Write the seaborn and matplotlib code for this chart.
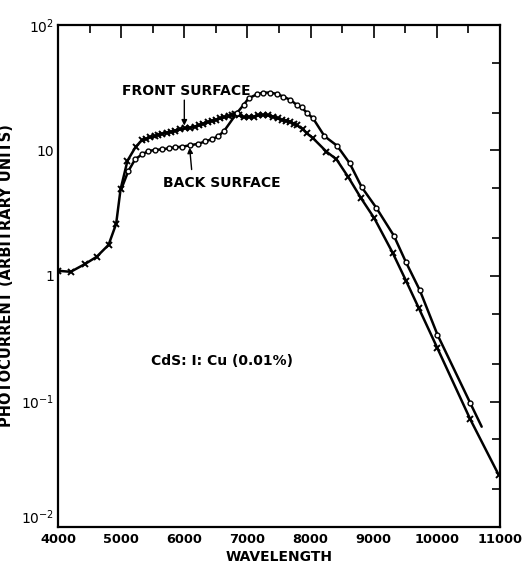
import numpy as np
import pandas as pd
import matplotlib
matplotlib.use("Agg")
import matplotlib.pyplot as plt
from matplotlib.ticker import FixedLocator, NullFormatter
import seaborn as sns

# front surface (x markers)
front_wl = [4000, 4200, 4420, 4610, 4800, 4920, 4990, 5100, 5230, 5330,
            5400, 5460, 5530, 5590, 5650, 5720, 5790, 5850, 5930, 6010,
            6090, 6170, 6240, 6300, 6370, 6440, 6500, 6570, 6630, 6700,
            6750, 6810, 6870, 6940, 7020, 7100, 7170, 7250, 7330, 7410,
            7480, 7540, 7610, 7680, 7730, 7780, 7880, 7940, 8040, 8250,
            8410, 8600, 8800, 9010, 9300, 9510, 9710, 10010, 10530, 10980]
front_pc = [1.1, 1.08, 1.24, 1.42, 1.77, 2.6, 4.9, 8.3, 10.7, 12.1,
            12.4, 12.8, 13.0, 13.3, 13.6, 13.9, 14.1, 14.4, 14.7, 15.0,
            15.2, 15.5, 15.9, 16.4, 16.8, 17.3, 17.6, 18.0, 18.4, 18.8,
            19.2, 19.5, 19.0, 18.4, 18.5, 18.6, 19.0, 19.2, 19.0, 18.6,
            18.0, 17.5, 17.3, 17.0, 16.3, 16.0, 14.7, 13.7, 12.5, 9.8,
            8.5, 6.1, 4.16, 2.88, 1.53, 0.92, 0.56, 0.265, 0.072, 0.026]

# back surface (open circles); first and last points are line ends only
back_wl = [5000, 5110, 5220, 5330, 5430, 5540, 5640, 5750, 5850, 5960,
           6090, 6220, 6330, 6440, 6540, 6630, 6830, 6940, 7020, 7150,
           7250, 7360, 7470, 7570, 7680, 7780, 7860, 7940, 8040, 8220,
           8420, 8620, 8810, 9040, 9320, 9510, 9730, 10010, 10530, 10710]
back_pc = [4.9, 6.8, 8.5, 9.3, 9.9, 10.1, 10.2, 10.4, 10.6, 10.7,
           11.0, 11.3, 11.8, 12.3, 13.0, 14.3, 19.8, 23.1, 26.1, 28.0,
           28.9, 28.9, 28.2, 26.8, 25.3, 23.1, 22.0, 20.0, 18.0, 13.0,
           10.9, 7.9, 5.1, 3.5, 2.09, 1.29, 0.77, 0.34, 0.097, 0.063]

x_ticks = [4000, 5000, 6000, 7000, 8000, 9000, 10000, 11000]
y_ticks = [0.01, 0.1, 1, 10, 100]
y_ticklabels = ['$10^{-2}$', '$10^{-1}$', '1', '10', '$10^{2}$']

front = pd.DataFrame({'wl': front_wl, 'pc': front_pc})
back = pd.DataFrame({'wl': back_wl, 'pc': back_pc})

sns.set_style('white')
plt.rcParams['font.family'] = ['DejaVu Sans']
plt.rcParams['mathtext.default'] = 'regular'
for k in ['text.color', 'axes.labelcolor', 'xtick.color', 'ytick.color']:
    plt.rcParams[k] = 'black'

fig = plt.figure(figsize=(5.23, 5.67), dpi=100)
ax = fig.add_axes([0.111, 0.0705, 0.845, 0.8855])

sns.lineplot(data=front, x='wl', y='pc', sort=False, ax=ax, color='black', lw=1.8,
             marker='x', markersize=5, markeredgewidth=1.4, markeredgecolor='black')
sns.lineplot(data=back, x='wl', y='pc', sort=False, ax=ax, color='black', lw=1.8,
             marker='o', markersize=3.5, markerfacecolor='white',
             markeredgecolor='black', markeredgewidth=1.0,
             markevery=list(range(1, len(back_wl) - 1)))

ax.set_yscale('log')
ax.set_xlim(4000, 11000)
ax.set_ylim(0.01, 100)

ax.xaxis.set_major_locator(FixedLocator(x_ticks))
ax.xaxis.set_minor_locator(FixedLocator(np.arange(4500, 11000, 1000)))
ax.set_xticklabels([str(t) for t in x_ticks], fontsize=9.3, fontweight='bold')
ax.yaxis.set_major_locator(FixedLocator(y_ticks))
minor_y = [m * 10.0 ** e for e in range(-2, 2) for m in (2, 5)]
ax.yaxis.set_minor_locator(FixedLocator(minor_y))
ax.yaxis.set_minor_formatter(NullFormatter())
ax.set_yticklabels(y_ticklabels, fontsize=10)

# bottom y label sits above the axis line, clear of the 4000 label
ax.get_yticklabels()[0].set_va('bottom')

ax.tick_params(which='both', direction='in', top=True, right=True, color='black', width=1.2)
ax.tick_params(which='major', length=9, pad=4)
ax.tick_params(which='minor', length=6)
ax.tick_params(axis='y', which='major', length=7, pad=3)

for s in ax.spines.values():
    s.set_color('black')
    s.set_linewidth(1.6)

ax.set_xlabel('WAVELENGTH', fontsize=10, fontweight='bold', labelpad=3)
ax.set_ylabel('PHOTOCURRENT (ARBITRARY UNITS)', fontsize=10.5, fontweight='bold', labelpad=5)

ax.text(6030, 30, 'FRONT SURFACE', ha='center', va='center', fontsize=10, fontweight='bold')
ax.annotate('', xy=(6000, 15.0), xytext=(6000, 26.5),
            arrowprops=dict(arrowstyle='-|>', lw=1, color='black', mutation_scale=8))
ax.text(6600, 5.5, 'BACK SURFACE', ha='center', va='center', fontsize=10, fontweight='bold')
ax.annotate('', xy=(6080, 11.1), xytext=(6120, 6.7),
            arrowprops=dict(arrowstyle='-|>', lw=1, color='black', mutation_scale=8))
ax.text(6600, 0.21, 'CdS: I: Cu (0.01%)', ha='center', va='center', fontsize=10, fontweight='bold')

fig.savefig('out.png', dpi=100)
